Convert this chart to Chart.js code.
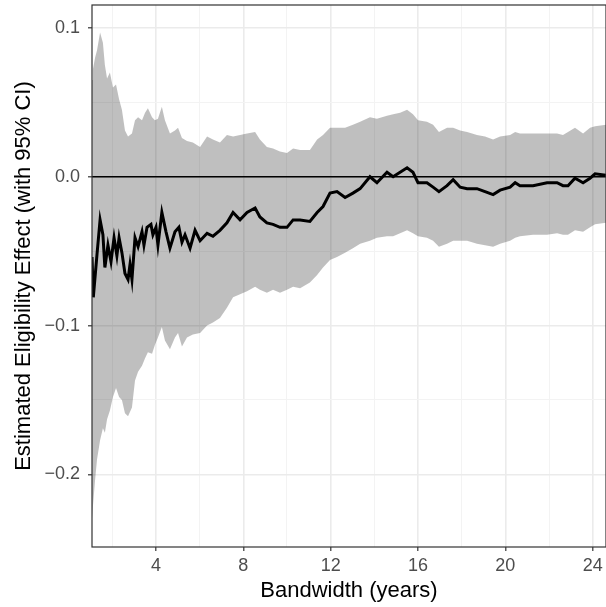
<!DOCTYPE html>
<html>
<head>
<meta charset="utf-8">
<script src="https://cdn.jsdelivr.net/npm/chart.js@4.4.1/dist/chart.umd.min.js"></script>
<style>
  html, body { margin: 0; padding: 0; background: #fff; }
</style>
</head>
<body>
<canvas id="rdChart" width="606" height="607"></canvas>
<script>
// 95% CI band
const bandX = [
  1.07, 1.11, 1.21, 1.30, 1.44, 1.57, 1.66, 1.76, 1.89, 2.03,
  2.17, 2.31, 2.44, 2.58, 2.72, 2.90, 3.04, 3.18, 3.36, 3.50,
  3.63, 3.82, 3.95, 4.09, 4.27, 4.41, 4.64, 4.87, 5.01, 5.19,
  5.42, 5.69, 6.02,
  6.34, 6.61, 6.93, 7.25, 7.53, 7.85, 8.17, 8.54, 8.76, 9.08,
  9.36, 9.68, 10.00, 10.28, 10.60, 11.05, 11.38, 11.65, 11.97, 12.29,
  12.66, 13.02, 13.35, 13.80, 14.12, 14.58, 14.86, 15.18, 15.50, 15.77,
  16.00, 16.41, 16.69, 16.96, 17.33, 17.61, 17.93, 18.25, 18.70, 19.07,
  19.44, 19.76, 20.22, 20.45, 20.67, 21.27, 21.91, 22.37, 22.64, 22.87,
  23.19, 23.56, 23.88, 24.11, 24.61
];
const ciUpper = [
  0.065, 0.072, 0.080, 0.085, 0.097, 0.090, 0.075, 0.066, 0.070, 0.060,
  0.062, 0.052, 0.045, 0.031, 0.027, 0.029, 0.038, 0.040, 0.038, 0.043,
  0.046, 0.040, 0.038, 0.039, 0.047, 0.038, 0.029, 0.031, 0.033, 0.026,
  0.024, 0.023, 0.020,
  0.027, 0.025, 0.023, 0.028, 0.027, 0.028, 0.029, 0.030, 0.025, 0.020,
  0.019, 0.017, 0.016, 0.019, 0.018, 0.018, 0.025, 0.028, 0.033, 0.033,
  0.033, 0.035, 0.037, 0.040, 0.039, 0.041, 0.042, 0.043, 0.045, 0.042,
  0.038, 0.037, 0.035, 0.030, 0.033, 0.033, 0.031, 0.030, 0.028, 0.027,
  0.025, 0.027, 0.028, 0.030, 0.029, 0.029, 0.029, 0.029, 0.028, 0.030,
  0.033, 0.029, 0.033, 0.034, 0.035
];
const ciLower = [
  -0.230, -0.222, -0.204, -0.190, -0.177, -0.169, -0.172, -0.163, -0.157, -0.148,
  -0.142, -0.148, -0.150, -0.159, -0.161, -0.155, -0.137, -0.131, -0.127, -0.122,
  -0.118, -0.119, -0.113, -0.108, -0.101, -0.110, -0.116, -0.108, -0.105, -0.114,
  -0.108, -0.106, -0.105,
  -0.100, -0.098, -0.095, -0.088, -0.081, -0.079, -0.077, -0.074, -0.076, -0.078,
  -0.076, -0.078, -0.076, -0.074, -0.075, -0.071, -0.066, -0.061, -0.056, -0.054,
  -0.051, -0.048, -0.045, -0.043, -0.041, -0.040, -0.040, -0.038, -0.036, -0.038,
  -0.040, -0.041, -0.043, -0.047, -0.045, -0.043, -0.043, -0.043, -0.045, -0.046,
  -0.047, -0.045, -0.043, -0.041, -0.040, -0.039, -0.039, -0.038, -0.039, -0.039,
  -0.036, -0.037, -0.034, -0.032, -0.031
];

// point estimate
const estX = [
  1.07, 1.13, 1.30, 1.44, 1.57, 1.66, 1.80, 1.94, 2.08, 2.21,
  2.31, 2.44, 2.58, 2.72, 2.81, 2.90, 3.04, 3.18, 3.36, 3.45,
  3.59, 3.77, 3.86, 4.00, 4.09, 4.27, 4.46, 4.64, 4.87, 5.05,
  5.19, 5.33, 5.56, 5.79, 6.02,
  6.34, 6.61, 6.93, 7.25, 7.53, 7.85, 8.17, 8.54, 8.76, 9.08,
  9.36, 9.68, 10.00, 10.28, 10.60, 11.05, 11.38, 11.65, 11.97, 12.29,
  12.66, 13.02, 13.35, 13.80, 14.12, 14.58, 14.86, 15.18, 15.50, 15.77,
  16.00, 16.41, 16.69, 16.96, 17.33, 17.61, 17.93, 18.25, 18.70, 19.07,
  19.44, 19.76, 20.22, 20.45, 20.67, 21.27, 21.91, 22.37, 22.64, 22.87,
  23.19, 23.56, 23.88, 24.11, 24.61
];
const estimate = [
  -0.054, -0.081, -0.052, -0.029, -0.039, -0.061, -0.046, -0.057, -0.041, -0.053,
  -0.041, -0.051, -0.065, -0.069, -0.059, -0.069, -0.041, -0.047, -0.037, -0.046,
  -0.034, -0.032, -0.039, -0.034, -0.046, -0.024, -0.037, -0.048, -0.037, -0.034,
  -0.044, -0.039, -0.048, -0.036, -0.043,
  -0.038, -0.040, -0.036, -0.031, -0.024, -0.029, -0.024, -0.021, -0.027, -0.031,
  -0.032, -0.034, -0.034, -0.029, -0.029, -0.030, -0.024, -0.020, -0.011, -0.010,
  -0.014, -0.011, -0.008, 0.000, -0.004, 0.003, 0.000, 0.003, 0.006, 0.003,
  -0.004, -0.004, -0.007, -0.010, -0.006, -0.002, -0.007, -0.008, -0.008, -0.010,
  -0.012, -0.009, -0.007, -0.004, -0.006, -0.006, -0.004, -0.004, -0.006, -0.006,
  -0.001, -0.004, -0.001, 0.002, 0.001
];

const xTicks = [2, 4, 6, 8, 10, 12, 14, 16, 18, 20, 22, 24];
const xLabelled = [4, 8, 12, 16, 20, 24];
const yTicks = [-0.2, -0.15, -0.1, -0.05, 0, 0.05, 0.1];
const yLabelled = [-0.2, -0.1, 0, 0.1];

Chart.defaults.font.family = "'Liberation Sans', Arial, sans-serif";

const isMajor = (list, v) => list.some(m => Math.abs(m - v) < 1e-9);
const pts = (xs, ys) => xs.map((x, i) => ({ x: x, y: ys[i] }));

// ggplot-like panel border over everything
const panelBorder = {
  id: 'panelBorder',
  afterDatasetsDraw(chart) {
    const a = chart.chartArea, c = chart.ctx;
    c.save();
    c.strokeStyle = '#333333';
    c.lineWidth = 1.2;
    c.strokeRect(a.left, a.top, a.right - a.left, a.bottom - a.top);
    c.restore();
  }
};

const noPad = function(scale) {
  scale.paddingTop = 0; scale.paddingBottom = 0;
  scale.paddingLeft = 0; scale.paddingRight = 0;
};

new Chart(document.getElementById('rdChart').getContext('2d'), {
  type: 'line',
  data: {
    datasets: [
      {
        label: 'upper',
        data: pts(bandX, ciUpper),
        borderWidth: 0,
        borderColor: 'rgba(0,0,0,0)',
        backgroundColor: 'rgba(0,0,0,0.25)',
        pointRadius: 0,
        fill: '+1',
        order: 3
      },
      {
        label: 'lower',
        data: pts(bandX, ciLower),
        borderWidth: 0,
        borderColor: 'rgba(0,0,0,0)',
        pointRadius: 0,
        fill: false,
        order: 4
      },
      {
        label: 'zero',
        data: pts([1.07, 24.61], [0, 0]),
        borderColor: '#000000',
        borderWidth: 1.6,
        pointRadius: 0,
        fill: false,
        order: 2
      },
      {
        label: 'estimate',
        data: pts(estX, estimate),
        borderColor: '#000000',
        borderWidth: 3,
        pointRadius: 0,
        fill: false,
        tension: 0,
        order: 1
      }
    ]
  },
  options: {
    responsive: false,
    animation: false,
    layout: { padding: { top: 5, right: 0, left: 0, bottom: 0 } },
    plugins: {
      legend: { display: false },
      tooltip: { enabled: false }
    },
    scales: {
      x: {
        type: 'linear',
        min: 1.07,
        max: 24.61,
        afterBuildTicks: s => { s.ticks = xTicks.map(v => ({ value: v })); },
        afterFit: s => { s.height = 60; noPad(s); },
        border: { display: false },
        grid: {
          color: c => isMajor(xLabelled, c.tick.value) ? '#ebebeb' : '#f3f3f3',
          lineWidth: c => isMajor(xLabelled, c.tick.value) ? 1.6 : 1,
          tickColor: c => isMajor(xLabelled, c.tick.value) ? '#333333' : 'rgba(0,0,0,0)',
          tickWidth: 1.2,
          tickLength: 4
        },
        ticks: {
          autoSkip: false,
          maxRotation: 0,
          padding: 4,
          color: '#4d4d4d',
          font: { size: 18 },
          callback: v => isMajor(xLabelled, v) ? String(v) : ''
        },
        title: {
          display: true,
          text: 'Bandwidth (years)',
          color: '#000000',
          font: { size: 22 },
          padding: { top: 0, bottom: 3 }
        }
      },
      y: {
        type: 'linear',
        min: -0.2488,
        max: 0.1154,
        afterBuildTicks: s => { s.ticks = yTicks.map(v => ({ value: v })); },
        afterFit: s => { s.width = 92; noPad(s); },
        border: { display: false },
        grid: {
          color: c => isMajor(yLabelled, c.tick.value) ? '#ebebeb' : '#f3f3f3',
          lineWidth: c => isMajor(yLabelled, c.tick.value) ? 1.6 : 1,
          tickColor: c => isMajor(yLabelled, c.tick.value) ? '#333333' : 'rgba(0,0,0,0)',
          tickWidth: 1.2,
          tickLength: 4
        },
        ticks: {
          autoSkip: false,
          padding: 8,
          color: '#4d4d4d',
          font: { size: 18 },
          callback: v => isMajor(yLabelled, v) ? v.toFixed(1).replace('-', '\u2212') : ''
        },
        title: {
          display: true,
          text: 'Estimated Eligibility Effect (with 95% CI)',
          color: '#000000',
          font: { size: 22 },
          padding: { top: 11, bottom: 0 }
        }
      }
    }
  },
  plugins: [panelBorder]
});
</script>
</body>
</html>
